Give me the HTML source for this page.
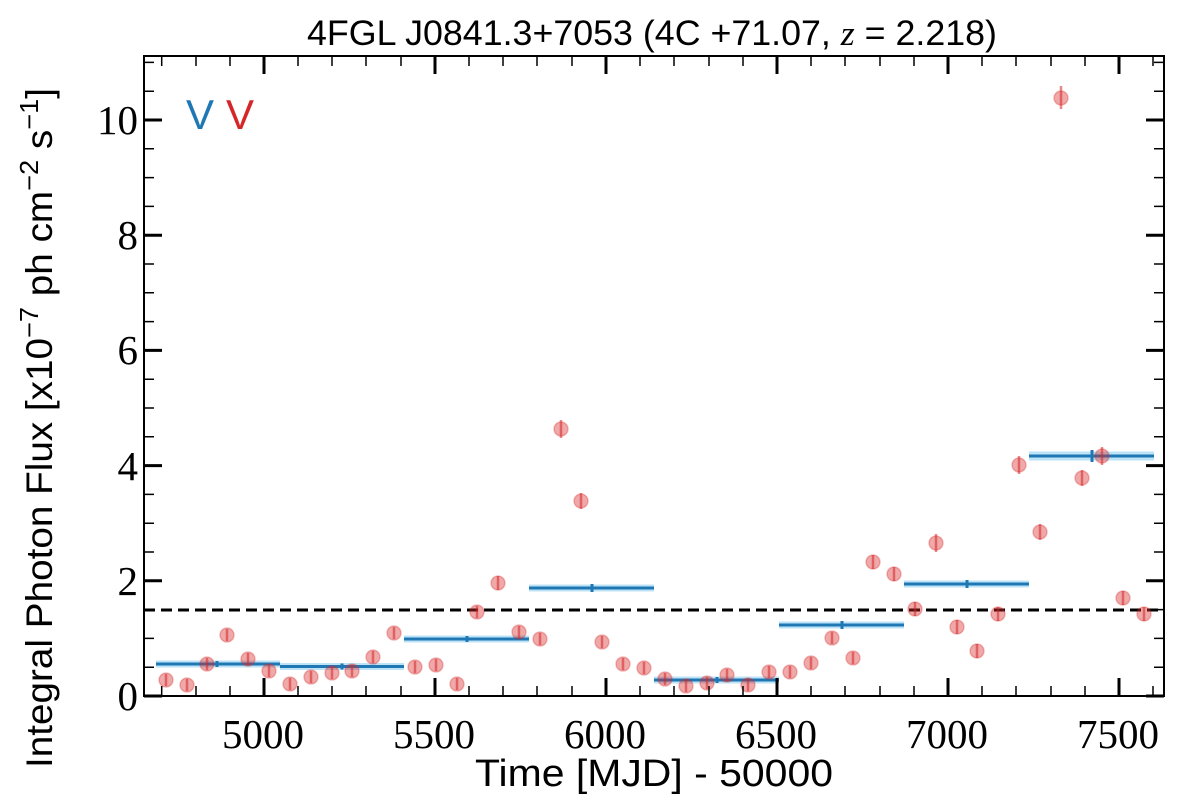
<!DOCTYPE html>
<html><head><meta charset="utf-8"><style>body{margin:0;background:#fff}svg{display:block}</style></head><body>
<svg width="1200" height="800" xmlns="http://www.w3.org/2000/svg">
<rect width="1200" height="800" fill="#fff"/>
<text x="652" y="45" text-anchor="middle" font-family="Liberation Sans, sans-serif" font-size="35" textLength="690" lengthAdjust="spacingAndGlyphs">4FGL J0841.3+7053 (4C +71.07, <tspan font-family="Liberation Serif" font-style="italic">z</tspan> = 2.218)</text>
<text x="186" y="129" font-family="Liberation Sans, sans-serif" font-size="42" fill="#1f77b4">V</text>
<text x="226" y="129" font-family="Liberation Sans, sans-serif" font-size="42" fill="#d62728">V</text>
<line x1="144" y1="610" x2="1164" y2="610" stroke="#000" stroke-width="3" stroke-dasharray="11,6"/>
<g stroke-linecap="butt">
<g stroke="#bde3f7" stroke-width="7">
<line x1="156" y1="664" x2="280" y2="664"/><line x1="280" y1="666.5" x2="404" y2="666.5"/><line x1="404" y1="639" x2="529" y2="639"/><line x1="529" y1="588" x2="654" y2="588"/><line x1="654" y1="680" x2="779" y2="680"/><line x1="779" y1="625" x2="904" y2="625"/><line x1="904" y1="584" x2="1029" y2="584"/><line x1="1029" y1="456" x2="1154" y2="456" stroke-width="9"/>
</g>
<g stroke="#1f77b4" stroke-width="3">
<line x1="156" y1="664" x2="280" y2="664"/><line x1="280" y1="666.5" x2="404" y2="666.5"/><line x1="404" y1="639" x2="529" y2="639"/><line x1="529" y1="588" x2="654" y2="588"/><line x1="654" y1="680" x2="779" y2="680"/><line x1="779" y1="625" x2="904" y2="625"/><line x1="904" y1="584" x2="1029" y2="584"/><line x1="1029" y1="456" x2="1154" y2="456"/>
<line x1="217" y1="661" x2="217" y2="667"/><line x1="342" y1="663.5" x2="342" y2="669.5"/><line x1="467" y1="636" x2="467" y2="642"/><line x1="592" y1="584" x2="592" y2="592"/><line x1="717" y1="677" x2="717" y2="683"/><line x1="842" y1="621" x2="842" y2="629"/><line x1="967" y1="580" x2="967" y2="588"/><line x1="1092" y1="450" x2="1092" y2="462"/>
</g></g>
<g fill="#d62728" fill-opacity="0.4" stroke="#d62728" stroke-opacity="0.3" stroke-width="1.5">
<circle cx="166" cy="680" r="7"/><circle cx="187" cy="685" r="7"/><circle cx="207" cy="664" r="7"/><circle cx="227" cy="635" r="7"/><circle cx="248" cy="659" r="7"/><circle cx="269" cy="671" r="7"/><circle cx="290" cy="684" r="7"/><circle cx="311" cy="677" r="7"/><circle cx="332" cy="673" r="7"/><circle cx="352" cy="671" r="7"/><circle cx="373" cy="657" r="7"/><circle cx="394" cy="633" r="7"/><circle cx="415" cy="667" r="7"/><circle cx="436" cy="665" r="7"/><circle cx="457" cy="684" r="7"/><circle cx="477" cy="612" r="7"/><circle cx="498" cy="583" r="7"/><circle cx="519" cy="632" r="7"/><circle cx="540" cy="639" r="7"/><circle cx="561" cy="429" r="7"/><circle cx="581" cy="501" r="7"/><circle cx="602" cy="642" r="7"/><circle cx="623" cy="664" r="7"/><circle cx="644" cy="668" r="7"/><circle cx="665" cy="679" r="7"/><circle cx="686" cy="686" r="7"/><circle cx="707" cy="683" r="7"/><circle cx="727" cy="675" r="7"/><circle cx="748" cy="685" r="7"/><circle cx="769" cy="672" r="7"/><circle cx="790" cy="672" r="7"/><circle cx="811" cy="663" r="7"/><circle cx="832" cy="638" r="7"/><circle cx="853" cy="658" r="7"/><circle cx="873" cy="562" r="7"/><circle cx="894" cy="574" r="7"/><circle cx="915" cy="609" r="7"/><circle cx="936" cy="543" r="7"/><circle cx="957" cy="627" r="7"/><circle cx="977" cy="651" r="7"/><circle cx="998" cy="614" r="7"/><circle cx="1019" cy="465" r="7"/><circle cx="1040" cy="532" r="7"/><circle cx="1061" cy="98" r="7"/><circle cx="1082" cy="478" r="7"/><circle cx="1102" cy="456" r="7"/><circle cx="1123" cy="598" r="7"/><circle cx="1144" cy="614" r="7"/>
</g>
<g stroke="#d62728" stroke-opacity="0.55" stroke-width="2.5">
<path d="M166 674v12M187 679v12M207 658v12M227 629v12M248 653v12M269 665v12M290 678v12M311 671v12M332 667v12M352 665v12M373 651v12M394 627v12M415 661v12M436 659v12M457 678v12M477 606v12M498 576v14M519 626v12M540 633v12M561 420v18M581 493v16M602 636v12M623 658v12M644 662v12M665 673v12M686 680v12M707 677v12M727 669v12M748 679v12M769 666v12M790 666v12M811 657v12M832 632v12M853 652v12M873 555v14M894 567v14M915 602v14M936 534v18M957 620v14M977 644v14M998 607v14M1019 456v18M1040 524v16M1061 86v23M1082 470v16M1102 447v18M1123 591v14M1144 607v14"/>
</g>
<rect x="144" y="56" width="1020" height="640" fill="none" stroke="#000" stroke-width="2"/>
<g stroke="#000" stroke-width="1.5">
<path d="M161.7 696v-10M196 696v-10M230 696v-10M298 696v-10M332 696v-10M366 696v-10M401 696v-10M469 696v-10M503 696v-10M537 696v-10M572 696v-10M640 696v-10M674 696v-10M709 696v-10M743 696v-10M811 696v-10M845 696v-10M880 696v-10M914 696v-10M982 696v-10M1016 696v-10M1051 696v-10M1085 696v-10M1153 696v-10"/>
<path d="M161.7 56v10M196 56v10M230 56v10M298 56v10M332 56v10M366 56v10M401 56v10M469 56v10M503 56v10M537 56v10M572 56v10M640 56v10M674 56v10M709 56v10M743 56v10M811 56v10M845 56v10M880 56v10M914 56v10M982 56v10M1016 56v10M1051 56v10M1085 56v10M1153 56v10"/>
<path d="M144 667.2h10M144 638.4h10M144 609.6h10M144 552h10M144 523.2h10M144 494.4h10M144 436.8h10M144 408h10M144 379.2h10M144 321.6h10M144 292.8h10M144 264h10M144 206.4h10M144 177.6h10M144 148.8h10M144 91.2h10M144 62.4h10"/>
<path d="M1164 667.2h-10M1164 638.4h-10M1164 609.6h-10M1164 552h-10M1164 523.2h-10M1164 494.4h-10M1164 436.8h-10M1164 408h-10M1164 379.2h-10M1164 321.6h-10M1164 292.8h-10M1164 264h-10M1164 206.4h-10M1164 177.6h-10M1164 148.8h-10M1164 91.2h-10M1164 62.4h-10"/>
</g>
<g stroke="#000" stroke-width="3">
<path d="M264 696v-18M435 696v-18M606 696v-18M777 696v-18M948 696v-18M1119 696v-18"/>
<path d="M264 56v18M435 56v18M606 56v18M777 56v18M948 56v18M1119 56v18"/>
<path d="M144 696h18M144 580.8h18M144 465.6h18M144 350.4h18M144 235.2h18M144 120h18"/>
<path d="M1164 696h-18M1164 580.8h-18M1164 465.6h-18M1164 350.4h-18M1164 235.2h-18M1164 120h-18"/>
</g>
<g font-family="Liberation Serif, serif" font-size="41" text-anchor="middle">
<text x="263" y="748">5000</text><text x="434" y="748">5500</text><text x="605" y="748">6000</text><text x="776" y="748">6500</text><text x="947" y="748">7000</text><text x="1118" y="748">7500</text>
</g>
<g font-family="Liberation Serif, serif" font-size="41" text-anchor="end">
<text x="138" y="710">0</text><text x="138" y="595">2</text><text x="138" y="480">4</text><text x="138" y="364">6</text><text x="138" y="249">8</text><text x="138" y="134">10</text>
</g>
<text x="654" y="786" text-anchor="middle" font-family="Liberation Sans, sans-serif" font-size="38" textLength="358" lengthAdjust="spacingAndGlyphs">Time [MJD] - 50000</text>
<text transform="translate(52,428) rotate(-90)" text-anchor="middle" font-family="Liberation Sans, sans-serif" font-size="37" textLength="680" lengthAdjust="spacingAndGlyphs">Integral Photon Flux [x10<tspan dy="-14" font-size="26">−7</tspan><tspan dy="14"> ph cm</tspan><tspan dy="-14" font-size="26">−2</tspan><tspan dy="14"> s</tspan><tspan dy="-14" font-size="26">−1</tspan><tspan dy="14">]</tspan></text>
</svg>
</body></html>
